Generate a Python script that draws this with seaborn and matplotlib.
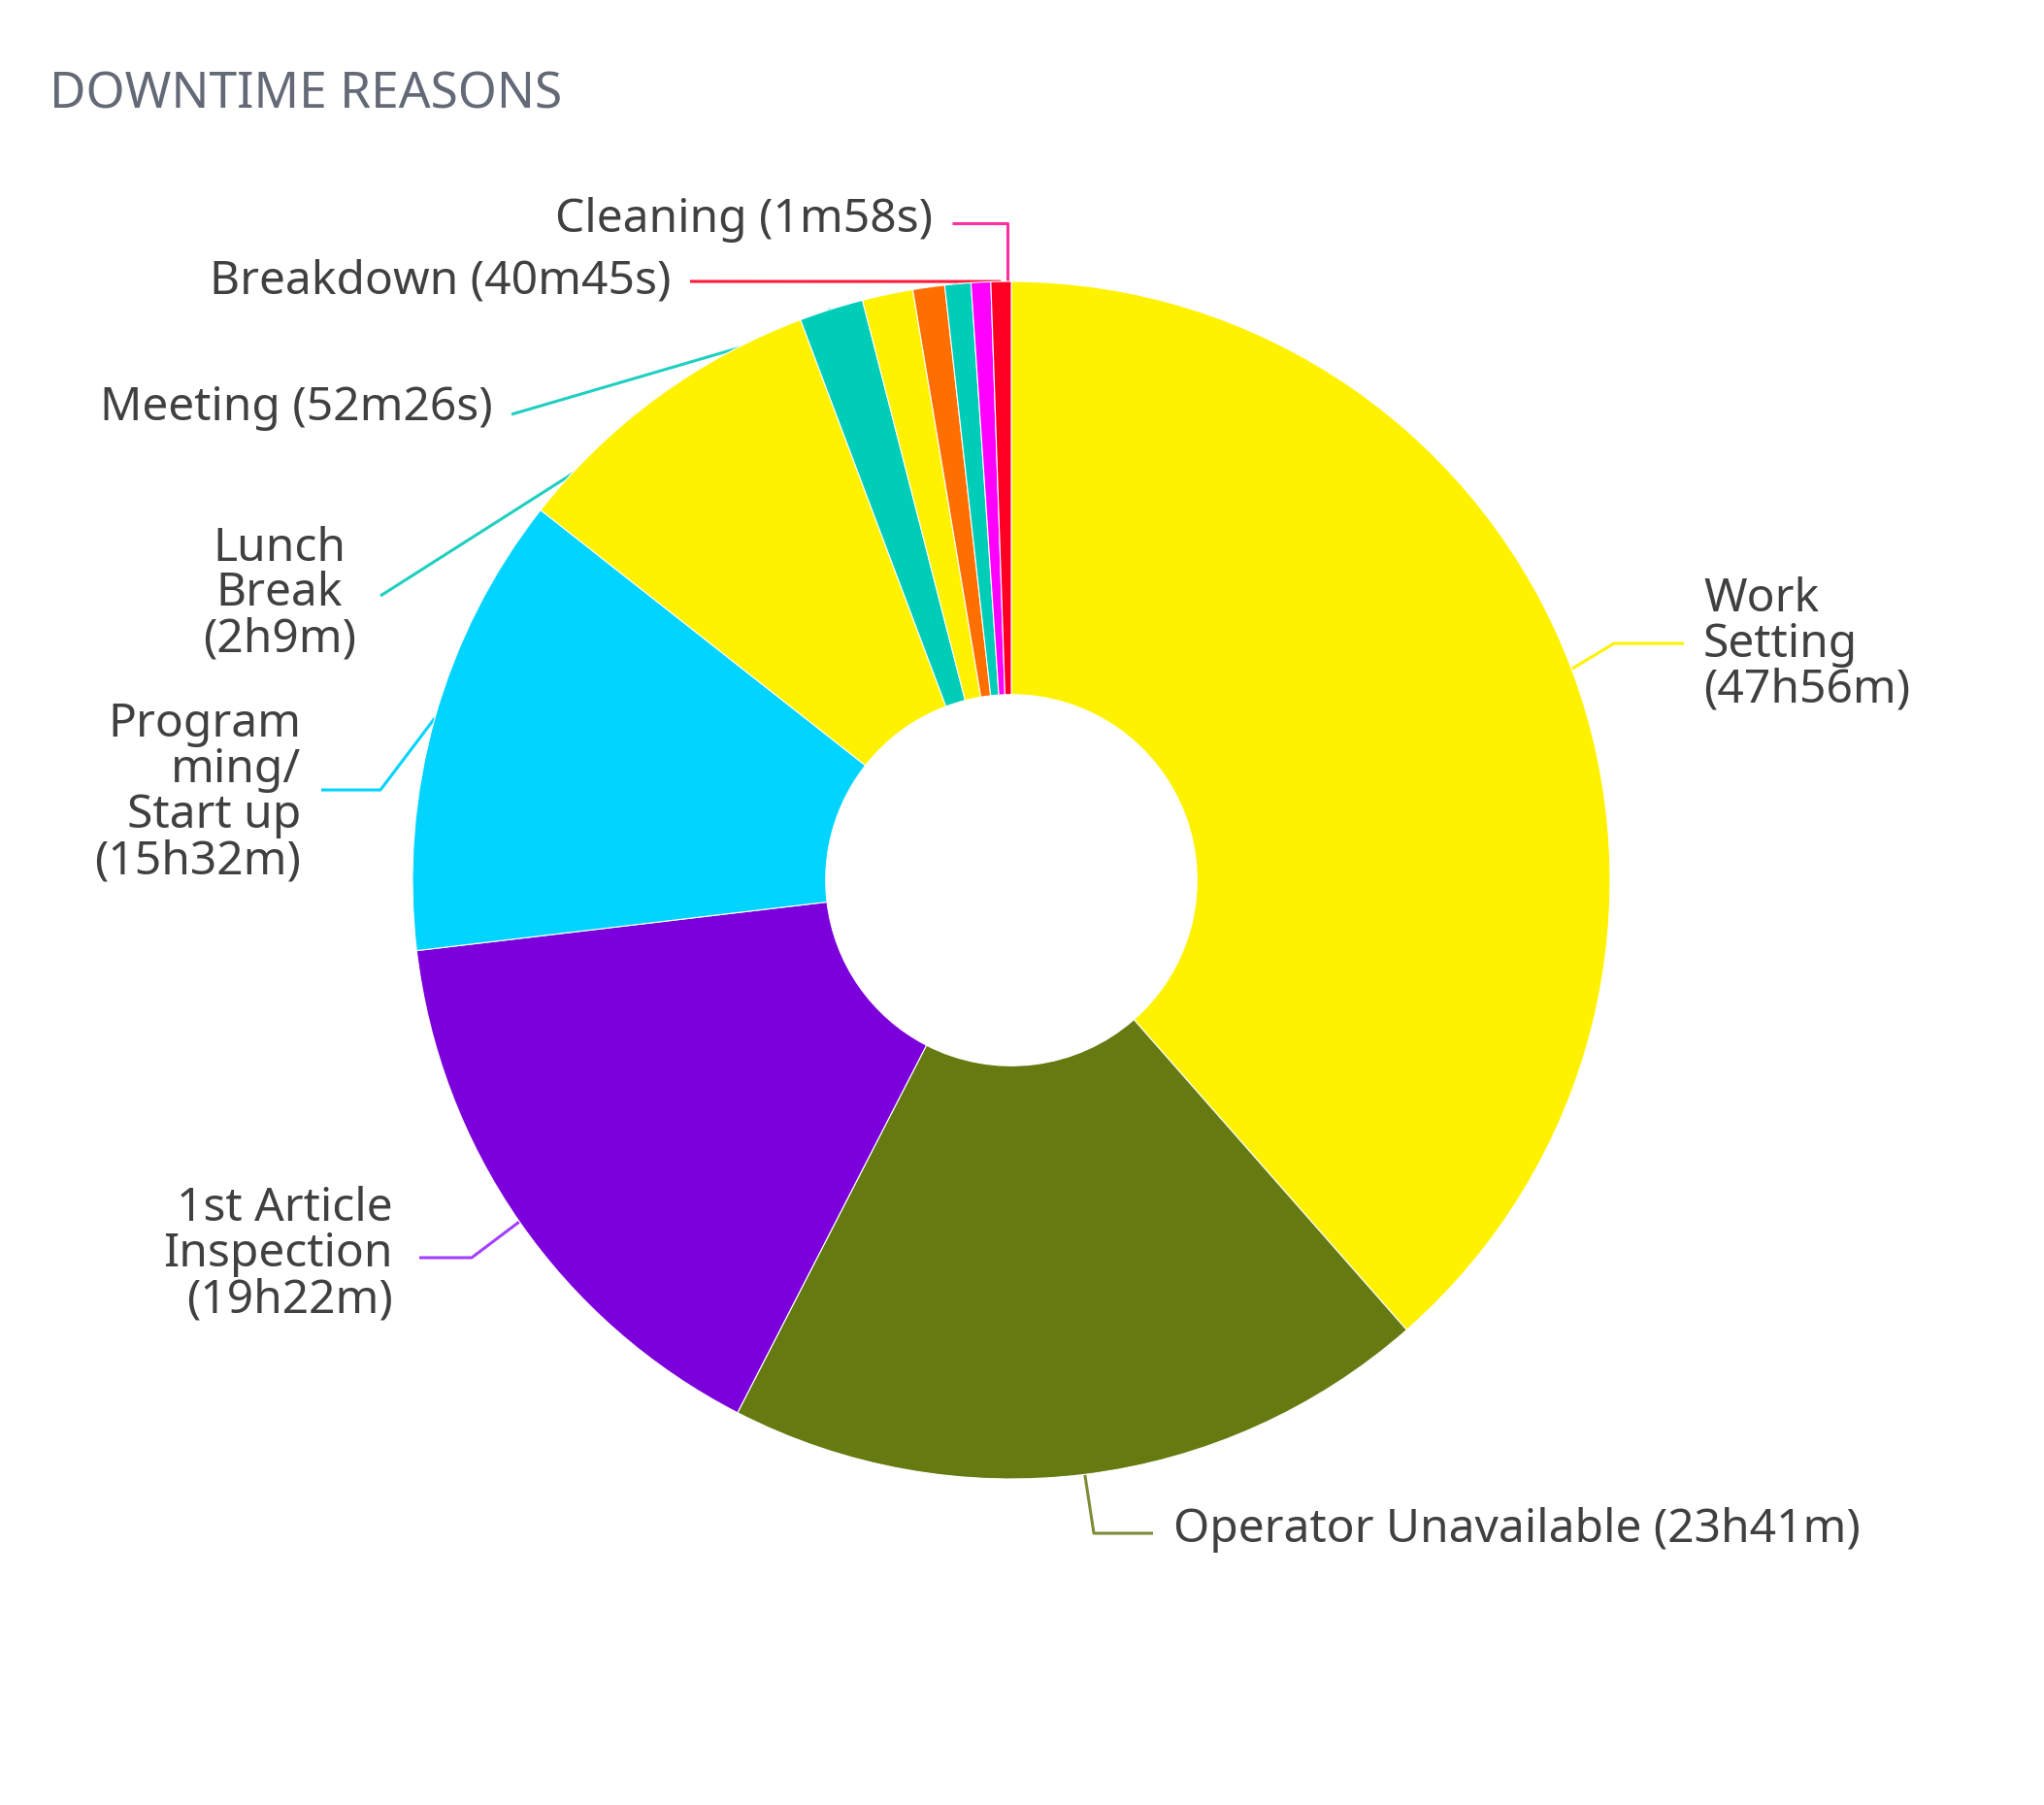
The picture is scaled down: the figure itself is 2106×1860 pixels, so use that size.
import numpy as np
import matplotlib
matplotlib.use("Agg")
import matplotlib.pyplot as plt
import seaborn as sns

# slices, clockwise from 12 o'clock (minutes of downtime)
reasons = ["Work Setting", "Operator Unavailable", "1st Article Inspection",
           "Programming/Start up", "Other 1", "Lunch Break", "Other 2",
           "Other 3", "Meeting", "Cleaning", "Breakdown"]
minutes = [2876, 1421, 1162, 932, 647, 129, 102, 64, 52.4, 2.0, 40.75]
colors = ["#fff200", "#667a12", "#7b00db", "#00d4ff", "#fff200", "#00cdb8",
          "#fff200", "#ff6f00", "#00cdb8", "#ff00ff", "#ff0022"]
label_text = {
    "Work Setting": "Work\nSetting\n(47h56m)",
    "Operator Unavailable": "Operator Unavailable (23h41m)",
    "1st Article Inspection": "1st Article\nInspection\n(19h22m)",
    "Programming/Start up": "Program\nming/\nStart up\n(15h32m)",
    "Lunch Break": "Lunch\nBreak\n(2h9m)",
    "Meeting": "Meeting (52m26s)",
    "Cleaning": "Cleaning (1m58s)",
    "Breakdown": "Breakdown (40m45s)",
}
line_colors = {
    "Work Setting": "#fff200", "Operator Unavailable": "#7d8c3a",
    "1st Article Inspection": "#a340ff", "Programming/Start up": "#00d4ff",
    "Lunch Break": "#1fcfc0", "Meeting": "#1fcfc0",
    "Cleaning": "#ff2fa0", "Breakdown": "#ff1a3a",
}

# layout in pixels (y from top): text anchor, alignment, connector start / elbow
layout = {
    "Work Setting": ((1755, 664), "left", [(1735, 663), (1663, 663)]),
    "Operator Unavailable": ((1209, 1577), "left", [(1188, 1580), (1127, 1580)]),
    "1st Article Inspection": ((405, 1293), "right", [(432, 1296), (486, 1296)]),
    "Programming/Start up": ((310, 817), "right", [(331, 814), (392, 814)]),
    "Lunch Break": ((288, 612), "center", [(392, 614)]),
    "Meeting": ((508, 421), "right", [(527, 427)]),
    "Cleaning": ((961, 227), "right", [(981, 230), (1038, 230)]),
    "Breakdown": ((691, 290), "right", [(711, 290)]),
}

W, H = 2106, 1860
cx, cy, R = 1042, 1860 - 907, 617
hole = 0.31

sns.set_theme(style="white")
plt.rcParams["font.family"] = ["Noto Sans", "DejaVu Sans"]

fig = plt.figure(figsize=(W / 100, H / 100), dpi=100)
ax = fig.add_axes([0, 0, 1, 1])

# tiny slices are given a minimum visible size
vals = np.array(minutes, dtype=float)
vals = np.maximum(vals, vals.sum() * 0.0053)

wedges, _ = ax.pie(vals, colors=colors, startangle=90, counterclock=False,
                   radius=R, center=(cx, cy),
                   wedgeprops=dict(width=R * (1 - hole), edgecolor="white",
                                   linewidth=0.8, zorder=3))
ax.set_xlim(0, W)
ax.set_ylim(0, H)
ax.axis("off")

for w, name in zip(wedges, reasons):
    if name not in label_text:
        continue
    (tx, ty), ha, pts = layout[name]
    xs = [p[0] for p in pts]
    ys = [H - p[1] for p in pts]
    if name == "Cleaning":
        # vertical drop onto the rim
        xs.append(xs[-1])
        ys.append(cy + np.sqrt(R ** 2 - (xs[-1] - cx) ** 2))
    else:
        mid = np.deg2rad((w.theta1 + w.theta2) / 2)
        xs.append(cx + R * np.cos(mid))
        ys.append(cy + R * np.sin(mid))
    ax.plot(xs, ys, color=line_colors[name], lw=2.2, zorder=1,
            solid_capstyle="butt")
    ax.text(tx, H - ty, label_text[name], ha=ha, va="center", fontsize=34.5,
            color="#404040", linespacing=1.0, zorder=4)

fig.text(51 / W, 1 - 112 / H, "DOWNTIME REASONS", ha="left", va="baseline",
         fontsize=37, color="#636976")

fig.savefig("out.png", dpi=100, facecolor="white")
